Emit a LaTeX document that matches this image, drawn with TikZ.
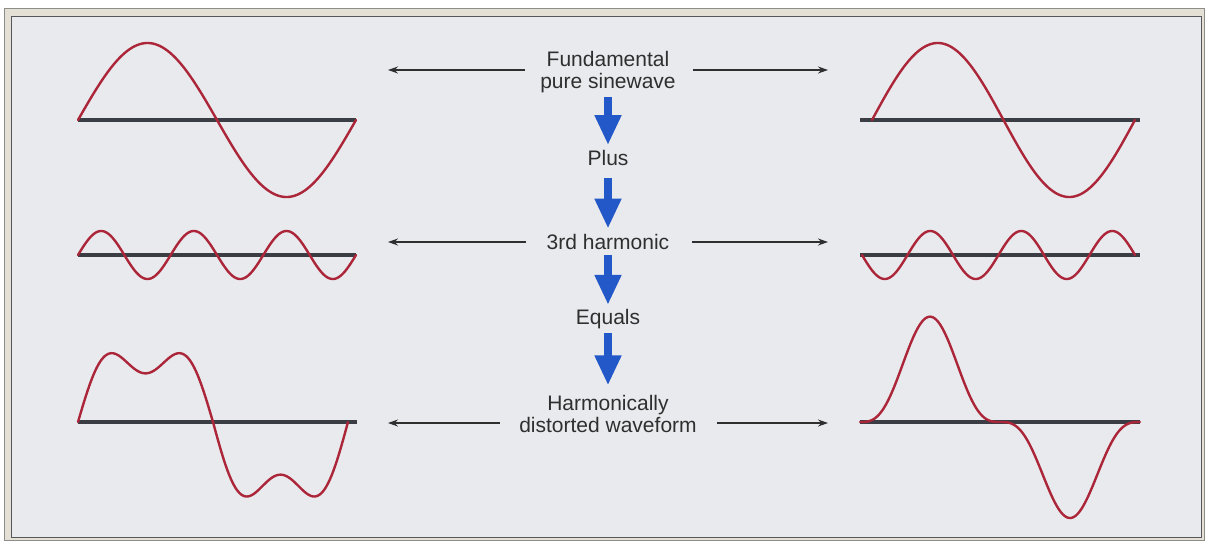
\documentclass[tikz,border=0pt]{standalone}
\usepackage{fontspec}
\newfontfamily\lblfont{Liberation Sans}
\usetikzlibrary{arrows.meta}
\definecolor{panel}{HTML}{E9EAEE}
\definecolor{bevel}{HTML}{E4E0D6}
\definecolor{framegray}{HTML}{8C8C88}
\definecolor{framedark}{HTML}{55575A}
\definecolor{wavered}{HTML}{AC2639}
\definecolor{axisgray}{HTML}{3A3E44}
\definecolor{arrowblue}{HTML}{2258C8}
\definecolor{txt}{HTML}{2F2F2F}
\begin{document}
\begin{tikzpicture}[x=1pt,y=-1pt,
  wave/.style={wavered, line width=2.4pt, line join=round, line cap=round},
  axisline/.style={axisgray, line width=3.1pt},
  lbl/.style={font=\lblfont\fontsize{21}{22}\selectfont, text=txt, inner sep=0pt, align=center},
  thinarrow/.style={txt, line width=1.2pt, -{Stealth[length=10pt,width=7pt]}},
  bluearrow/.style={arrowblue, line width=8pt, -{Triangle[width=25pt,length=30pt]}}]
\useasboundingbox (0,0) rectangle (1210,542);
\fill[white] (0,0) rectangle (1210,542);
\draw[framegray, line width=1.2pt, fill=bevel] (4.5,8.5) rectangle (1204.5,540.5);
\draw[framedark, line width=1.5pt, fill=panel] (11.5,16.5) rectangle (1201.5,537.5);

% labels
\node[lbl] (fund) at (608,72.5) {Fundamental\\pure sinewave};
\node[lbl, anchor=base] (plus) at (608,165) {Plus};
\node[lbl, anchor=base] (third) at (608,249.5) {3rd harmonic};
\node[lbl, anchor=base] (equals) at (608,324) {Equals};
\node[lbl] (harm) at (608,414) {Harmonically\\distorted waveform};

% blue arrows
\draw[bluearrow, shorten <=3.5pt, shorten >=4.5pt] (fund.south) -- (plus.north);
\draw[bluearrow, shorten <=13pt, shorten >=5.5pt] (plus.south) -- (third.north);
\draw[bluearrow, shorten <=5.5pt, shorten >=3.7pt] (third.south) -- (equals.north);
\draw[bluearrow, shorten <=4.6pt, shorten >=9.7pt] (equals.south) -- (harm.north);

% thin arrows
\coordinate (fL) at (388,70);
\coordinate (fR) at (828,70);
\coordinate (tL) at (388,242);
\coordinate (tR) at (828,242);
\coordinate (hL) at (388,423);
\coordinate (hR) at (828,423);
\draw[thinarrow, shorten <=15pt] (fund.west |- fL) -- (fL);
\draw[thinarrow, shorten <=17pt] (fund.east |- fR) -- (fR);
\draw[thinarrow, shorten <=21pt] (third.west |- tL) -- (tL);
\draw[thinarrow, shorten <=23pt] (third.east |- tR) -- (tR);
\draw[thinarrow, shorten <=19pt] (harm.west |- hL) -- (hL);
\draw[thinarrow, shorten <=20pt] (harm.east |- hR) -- (hR);

% axes
\draw[axisline] (78,120) -- (356,120);
\draw[axisline] (860,120) -- (1140,120);
\draw[axisline] (78,255) -- (356,255);
\draw[axisline] (860,255) -- (1140,255);
\draw[axisline] (78,422) -- (357,422);
\draw[axisline] (860,422) -- (1140,422);

% waves
\draw[wave] plot[domain=0:360, samples=181] ({78+278*(\x/360)}, {120-77*sin(\x)});
\draw[wave] plot[domain=0:360, samples=181] ({872+263*(\x/360)}, {120-77*sin(\x)});
\draw[wave] plot[domain=0:360, samples=241] ({78+278*(\x/360)}, {255-24*sin(3*\x)});
\draw[wave] plot[domain=0:360, samples=241] ({862+273*(\x/360)}, {255+24*sin(3*\x)});
\draw[wave] plot[domain=0:180, samples=121] ({78+270*(\x/360)}, {422-73*(sin(\x)+sin(3*\x)/3)})
  -- plot[domain=180:360, samples=121] ({78+270*(\x/360)}, {422-79*(sin(\x)+sin(3*\x)/3)});
\draw[wave] plot[domain=0:180, samples=121] ({860+280*(\x/360)}, {422-79*(sin(\x)-sin(3*\x)/3)})
  -- plot[domain=180:360, samples=121] ({860+280*(\x/360)}, {422-72*(sin(\x)-sin(3*\x)/3)});
\end{tikzpicture}
\end{document}
